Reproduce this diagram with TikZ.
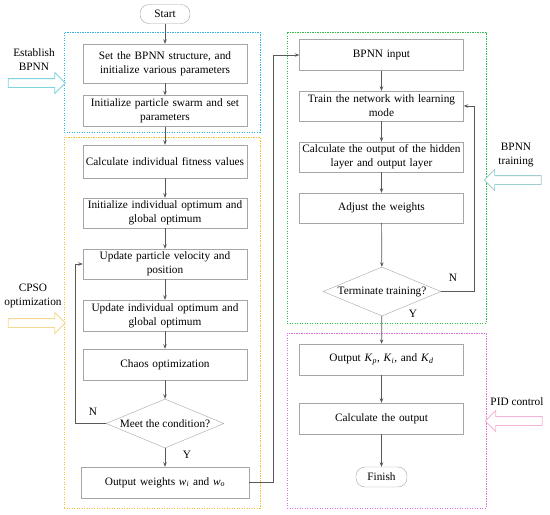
\documentclass[tikz,border=0pt]{standalone}
\usepackage{fontspec}
\setmainfont{Liberation Serif}
\usetikzlibrary{arrows.meta,positioning,shapes.geometric,shapes.arrows,calc}
\definecolor{FlowGray}{HTML}{A6A6A6}
\definecolor{FlowLine}{HTML}{595959}
\definecolor{EstBlue}{HTML}{2EB6E8}
\definecolor{EstArrow}{HTML}{7FD3E0}
\definecolor{PsoOrange}{HTML}{F5C033}
\definecolor{PsoArrow}{HTML}{F7D890}
\definecolor{TrainGreen}{HTML}{2FBF45}
\definecolor{TrainArrow}{HTML}{9CCFCF}
\definecolor{PidPink}{HTML}{E070E0}
\definecolor{PidArrow}{HTML}{F2B5D5}

\begin{document}
\begin{tikzpicture}[
    x=1pt,y=-1pt,
    font=\fontsize{11.3}{14}\selectfont,
    box/.style={draw=FlowGray,fill=white,minimum width=164pt,minimum height=31pt,text width=162pt,align=center,inner sep=1pt},
    term/.style={draw=FlowGray,fill=white,rounded corners=9pt,minimum width=50pt,minimum height=19pt,inner sep=1pt},
    decide/.style={draw=FlowGray,fill=white,diamond,minimum width=118pt,minimum height=49pt,inner sep=0pt},
    stage/.style={dash pattern=on 1.2pt off 1.3pt,line width=1pt,inner sep=0pt},
    harrow/.style={single arrow,draw=#1,fill=white,line width=0.8pt,minimum height=57pt,minimum width=20pt,single arrow head extend=6pt,inner sep=4pt},
    side/.style={align=center,inner sep=1pt},
    arr/.style={-{Stealth[length=4.5pt,width=3.5pt]},FlowLine,line width=0.7pt}
  ]
    \useasboundingbox (0,0) rectangle (550,515);
    % stage frames
    \node[stage,draw=EstBlue,minimum width=196pt,minimum height=100pt] (estframe) at (162,82) {};
    \node[stage,draw=PsoOrange,minimum width=196pt,minimum height=371pt] (psoframe) at (162,322.5) {};
    \node[stage,draw=TrainGreen,minimum width=199pt,minimum height=291pt] (trainframe) at (386.5,177.5) {};
    \node[stage,draw=PidPink,minimum width=199pt,minimum height=175pt] (pidframe) at (386.5,420.5) {};
    % left column
    \node[term] (start) at (165,14) {Start};
    \node[box,minimum height=39pt] (setup) at (165,63.5) {Set the BPNN structure, and\\initialize various parameters};
    \node[box] (swarm) at (165,111) {Initialize particle swarm and set\\parameters};
    \node[box,minimum height=33pt] (fitness) at (165,161.5) {Calculate individual fitness values};
    \node[box,minimum height=30pt] (initopt) at (165,213) {Initialize individual optimum and\\global optimum};
    \node[box,minimum height=30pt] (velocity) at (165,264) {Update particle velocity and\\position};
    \node[box] (updopt) at (165,315.5) {Update individual optimum and\\global optimum};
    \node[box] (chaos) at (165,364.5) {Chaos optimization};
    \node[decide] (meet) at (165,423.5) {\makebox[0pt]{Meet the condition?}};
    \node[box,minimum width=168pt] (weights) at (165,482.5) {Output weights \textit{w}\textsubscript{\textit{i}} and \textit{w}\textsubscript{\textit{o}}};
    % right column
    \node[box,minimum width=163pt] (input) at (381.5,55) {BPNN input};
    \node[box,minimum width=163pt,minimum height=30pt] (train) at (381.5,106) {Train the network with learning\\mode};
    \node[box,minimum width=163pt,minimum height=30pt] (hidden) at (381.5,157) {Calculate the output of the hidden\\layer and output layer};
    \node[box,minimum width=163pt,minimum height=30pt] (adjust) at (381.5,208) {Adjust the weights};
    \node[decide] (stop) at (382,291.5) {\makebox[0pt]{Terminate training?}};
    \node[box,minimum width=163pt] (gains) at (381.5,359.5) {Output \textit{K}\textsubscript{\textit{p}}, \textit{K}\textsubscript{\textit{i}}, and \textit{K}\textsubscript{\textit{d}}};
    \node[box,minimum width=163pt] (pidout) at (381.5,418.5) {Calculate the output};
    \node[term,minimum width=51pt,minimum height=20pt] (finish) at (381.5,477) {Finish};
    % side labels and hollow arrows
    \node[side] (estlbl) at (34,60) {Establish\\BPNN};
    \node[harrow=EstArrow] (estarr) at (34.5,83) {};
    \node[side] (psolbl) at (33,296) {CPSO\\optimization};
    \node[harrow=PsoArrow] (psoarr) at (34.5,323) {};
    \node[side] (trainlbl) at (516,155) {BPNN\\training};
    \node[harrow=TrainArrow,shape border rotate=180] (trainarr) at (515,180) {};
    \node[side] (pidlbl) at (517,402) {PID control};
    \node[harrow=PidArrow,shape border rotate=180] (pidarr) at (516,421) {};
    % flow
    \draw[arr] (start)--(setup); \draw[arr] (setup)--(swarm); \draw[arr] (swarm)--(fitness);
    \draw[arr] (fitness)--(initopt); \draw[arr] (initopt)--(velocity); \draw[arr] (velocity)--(updopt);
    \draw[arr] (updopt)--(chaos); \draw[arr] (chaos)--(meet); \draw[arr] (meet)--(weights);
    \draw[arr] (meet.west) -| ([xshift=-7pt]velocity.west) -- (velocity.west);
    \draw[arr] (weights.east) -| ([xshift=-26pt]input.west) -- (input.west);
    \draw[arr] (input)--(train); \draw[arr] (train)--(hidden); \draw[arr] (hidden)--(adjust);
    \draw[arr] (adjust)--(stop); \draw[arr] (stop)--(gains);
    \draw[arr] (stop.east) -| ([xshift=11pt]train.east) -- (train.east);
    \draw[arr] (gains)--(pidout); \draw[arr] (pidout)--(finish);
    \node (meetn) at (93,412) {N};
    \node (meety) at (187,455) {Y};
    \node (stopn) at (453,278) {N};
    \node (stopy) at (413,314) {Y};
  \end{tikzpicture}
\end{document}
